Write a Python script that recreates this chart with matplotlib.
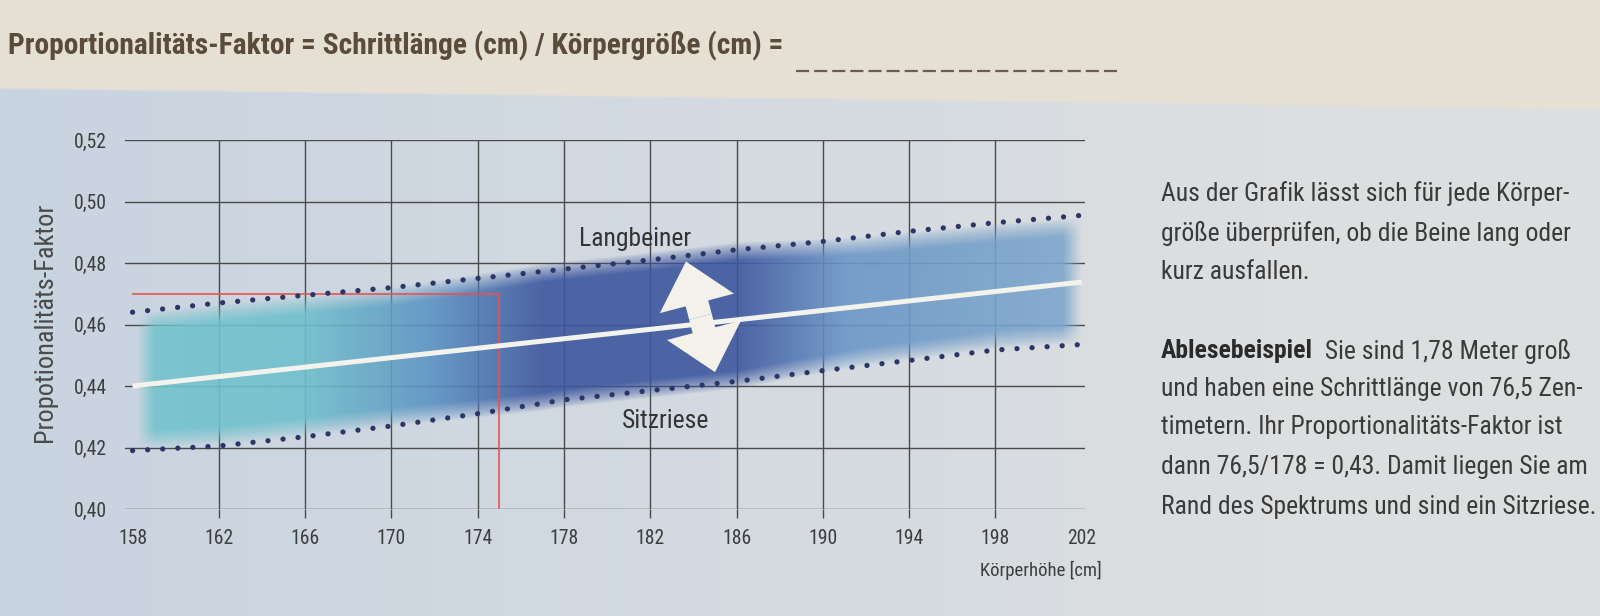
import os
import numpy as np
import matplotlib
matplotlib.use("Agg")
import matplotlib.pyplot as plt
from matplotlib.lines import Line2D
from matplotlib import font_manager as fm
from matplotlib.font_manager import FontProperties

# --- data ---
x_ticks = [158, 162, 166, 170, 174, 178, 182, 186, 190, 194, 198, 202]
y_ticks = [0.40, 0.42, 0.44, 0.46, 0.48, 0.50, 0.52]
y_labels = ['0,40', '0,42', '0,44', '0,46', '0,48', '0,50', '0,52']

# dotted boundaries (Langbeiner oben, Sitzriese unten)
upper = [0.464, 0.467, 0.4695, 0.472, 0.475, 0.478, 0.481, 0.4843, 0.487, 0.4903, 0.4931, 0.4955]
lower = [0.419, 0.4205, 0.4235, 0.427, 0.431, 0.4355, 0.4385, 0.4415, 0.445, 0.4483, 0.4517, 0.4535]

# white mean line
mean_x = [158, 202]
mean_y = [0.440, 0.4738]

# red reading example
example_x = [158, 175, 175]
example_y = [0.470, 0.470, 0.40]

arrow_top = (183.65, 0.4805)
arrow_bottom = (185.0, 0.4445)

title = 'Proportionalitäts-Faktor = Schrittlänge (cm) / Körpergröße (cm) = '
para1 = ['Aus der Grafik lässt sich für jede Körper-',
         'größe überprüfen, ob die Beine lang oder',
         'kurz ausfallen.']
para2_head = 'Ablesebeispiel'
para2 = ['  Sie sind 1,78 Meter groß',
         'und haben eine Schrittlänge von 76,5 Zen-',
         'timetern. Ihr Proportionalitäts-Faktor ist',
         'dann 76,5/178 = 0,43. Damit liegen Sie am',
         'Rand des Spektrums und sind ein Sitzriese.']


# pick a condensed face if one is installed
def pick(patterns):
    files = {os.path.basename(f.fname).lower(): f.fname for f in fm.fontManager.ttflist}
    for p in patterns:
        for k, v in files.items():
            if k.startswith(p):
                return v
    return None


reg_file = pick(['robotocondensed-regular', 'notosans-condensed.', 'notosans-condensedregular',
                 'liberationsansnarrow-regular', 'dejavusanscondensed.', 'opensans_condensed-regular',
                 'opensanscondensed-regular'])
bold_file = pick(['robotocondensed-bold.', 'notosans-condensedbold', 'liberationsansnarrow-bold.',
                  'dejavusanscondensed-bold.', 'opensans_condensed-bold', 'opensanscondensed-bold.'])
reg = FontProperties(fname=reg_file) if reg_file else FontProperties(family='Roboto')
bold = FontProperties(fname=bold_file) if bold_file else FontProperties(family='Roboto', weight='bold')

W, H = 1600, 616
fig = plt.figure(figsize=(16, 6.16), dpi=100)
r = fig.canvas.get_renderer()


def fit(s, prop, target_px):
    t = fig.text(0, 0, s, fontproperties=prop, fontsize=20)
    w = t.get_window_extent(renderer=r).width
    t.remove()
    return 20 * target_px / w


# page background: cream strip on top, blue-grey paper below
bg_ax = fig.add_axes([0, 0, 1, 1], zorder=-10)
px = np.arange(W)[None, :]
py = np.arange(H)[:, None]
left_c = np.array([0.785, 0.83, 0.88])
right_c = np.array([0.865, 0.875, 0.88])
t = np.clip(px / 1300.0, 0, 1)[..., None]
paper = left_c * (1 - t) + right_c * t
paper = np.broadcast_to(paper, (H, W, 3)).copy()
cream = np.array([0.905, 0.88, 0.835])
edge = 88 + px * 0.0127
m = np.clip((edge - py) / 3.0 + 0.5, 0, 1)[..., None]
bg = paper * (1 - m) + cream * m
bg_ax.imshow(bg, extent=[0, W, H, 0], aspect='auto')
bg_ax.axis('off')

ax = fig.add_axes([125 / W, 1 - 509 / H, 960 / W, 369 / H])
ax.set_facecolor('none')
x0, x1 = 157.65, 202.15
ax.set_xlim(x0, x1)
ax.set_ylim(0.40, 0.52)
for s in ax.spines.values():
    s.set_visible(False)

grid_c = '#4a4a4a'
for y in y_ticks:
    ax.axhline(y, color=grid_c, lw=1.0, zorder=1)
for x in x_ticks[1:-1]:
    ax.axvline(x, color=grid_c, lw=1.0, zorder=1)

# soft colour band between the dotted lines
xs = np.linspace(x0, x1, 900)
ys = np.linspace(0.40, 0.52, 500)
X, Y = np.meshgrid(xs, ys)
stops_x = [158, 166, 172, 177, 186, 191, 202]
stops_c = np.array([[0.45, 0.77, 0.80], [0.44, 0.75, 0.80], [0.36, 0.57, 0.76],
                    [0.24, 0.34, 0.62], [0.24, 0.34, 0.62], [0.42, 0.59, 0.78],
                    [0.50, 0.66, 0.80]])
inset_x = [158, 170, 177, 186, 192, 202]
inset_v = [0.0035, 0.003, 0.0005, 0.0005, 0.003, 0.0035]
inset = np.interp(xs, inset_x, inset_v)[None, :]
lo = np.interp(xs, x_ticks, lower)[None, :] + inset
hi = np.interp(xs, x_ticks, upper)[None, :] - inset
soft = 0.006
a = np.clip((Y - lo) / soft + 0.5, 0, 1) * np.clip((hi - Y) / soft + 0.5, 0, 1)
a = a ** 0.8
a *= np.clip((X - 158.2) / 0.8, 0, 1) * np.clip((202.05 - X) / 0.9, 0, 1)
cols = np.stack([np.interp(xs, stops_x, stops_c[:, i]) for i in range(3)], axis=-1)
rgba = np.zeros((len(ys), len(xs), 4))
rgba[..., :3] = cols[None, :, :]
rgba[..., 3] = a * 0.9
ax.imshow(rgba, extent=[x0, x1, 0.40, 0.52], origin='lower', aspect='auto',
          interpolation='bilinear', zorder=2)

ax.plot(example_x, example_y, color='#e8534e', lw=1.2, zorder=3)
dot_c = '#2b3566'
ax.plot(x_ticks, upper, ls=(0, (0.01, 2.85)), lw=3.8, color=dot_c,
        dash_capstyle='round', zorder=4)
ax.plot(x_ticks, lower, ls=(0, (0.01, 2.85)), lw=3.8, color=dot_c,
        dash_capstyle='round', zorder=4)
ax.plot(mean_x, mean_y, color='#f3f3ee', lw=3.6, solid_capstyle='butt', zorder=5)

mid = ((arrow_top[0] + arrow_bottom[0]) / 2, (arrow_top[1] + arrow_bottom[1]) / 2)
for tip in (arrow_top, arrow_bottom):
    ax.annotate('', xy=tip, xytext=mid, zorder=6,
                arrowprops=dict(arrowstyle='simple,head_length=1.3,head_width=2.3,tail_width=0.7',
                                fc='#f3f1ea', ec='none', mutation_scale=24,
                                shrinkA=0, shrinkB=0))

txt_c = '#333333'
fs_lab = fit('Langbeiner', reg, 112)
ax.text(181.3, 0.4878, 'Langbeiner', ha='center', va='center', fontproperties=reg,
        fontsize=fs_lab, color=txt_c, zorder=7)
ax.text(182.7, 0.4286, 'Sitzriese', ha='center', va='center', fontproperties=reg,
        fontsize=fs_lab, color=txt_c, zorder=7)

fs_tick = fit('0,52', reg, 33)
ax.set_xticks(x_ticks)
ax.set_xticklabels([str(v) for v in x_ticks], fontproperties=reg, fontsize=fs_tick)
ax.set_yticks(y_ticks)
ax.set_yticklabels(y_labels, fontproperties=reg, fontsize=fs_tick)
ax.tick_params(axis='x', length=6.5, width=1.0, color=grid_c, pad=8, labelcolor='#3d3d3d')
ax.tick_params(axis='y', length=0, pad=13, labelcolor='#3d3d3d')
ticks = ax.xaxis.get_major_ticks()
ticks[0].tick1line.set_visible(False)
ticks[-1].tick1line.set_visible(False)

fig.text(1102 / W, 1 - 570 / H, 'Körperhöhe [cm]', ha='right', va='center',
         fontproperties=reg, fontsize=fit('Körperhöhe [cm]', reg, 122), color='#3d3d3d')
fig.text(45 / W, 1 - 322 / H, 'Propotionalitäts-Faktor', rotation=90,
         ha='center', va='center', fontproperties=reg,
         fontsize=fit('Propotionalitäts-Faktor', reg, 238), color='#4a4a4a')

fig.text(8 / W, 1 - 46 / H, title, ha='left', va='center', fontproperties=bold,
         fontsize=fit(title.strip(), bold, 775), color='#5a4b3b')
fig.add_artist(Line2D([796 / W, 1120 / W], [1 - 71 / H, 1 - 71 / H], transform=fig.transFigure,
                      ls=(0, (5.9, 2.25)), lw=1.6, color='#6b5d4f'))

body_c = '#3a3a3a'
fs = fit(para2[-1], reg, 434)
tx = 1161 / W
for line, yy in zip(para1, [194, 233, 272]):
    fig.text(tx, 1 - yy / H, line, ha='left', va='center', fontproperties=reg,
             fontsize=fs, color=body_c)
head = fig.text(tx, 1 - 351 / H, para2_head, ha='left', va='center', fontproperties=bold,
                fontsize=fs, color='#2a2a2a')
bb = head.get_window_extent(renderer=r)
fig.text(bb.x1 / W, 1 - 351 / H, para2[0], ha='left', va='center', fontproperties=reg,
         fontsize=fs, color=body_c)
for line, yy in zip(para2[1:], [389, 427, 467, 507]):
    fig.text(tx, 1 - yy / H, line, ha='left', va='center', fontproperties=reg,
             fontsize=fs, color=body_c)

fig.savefig('out.png', dpi=100)
